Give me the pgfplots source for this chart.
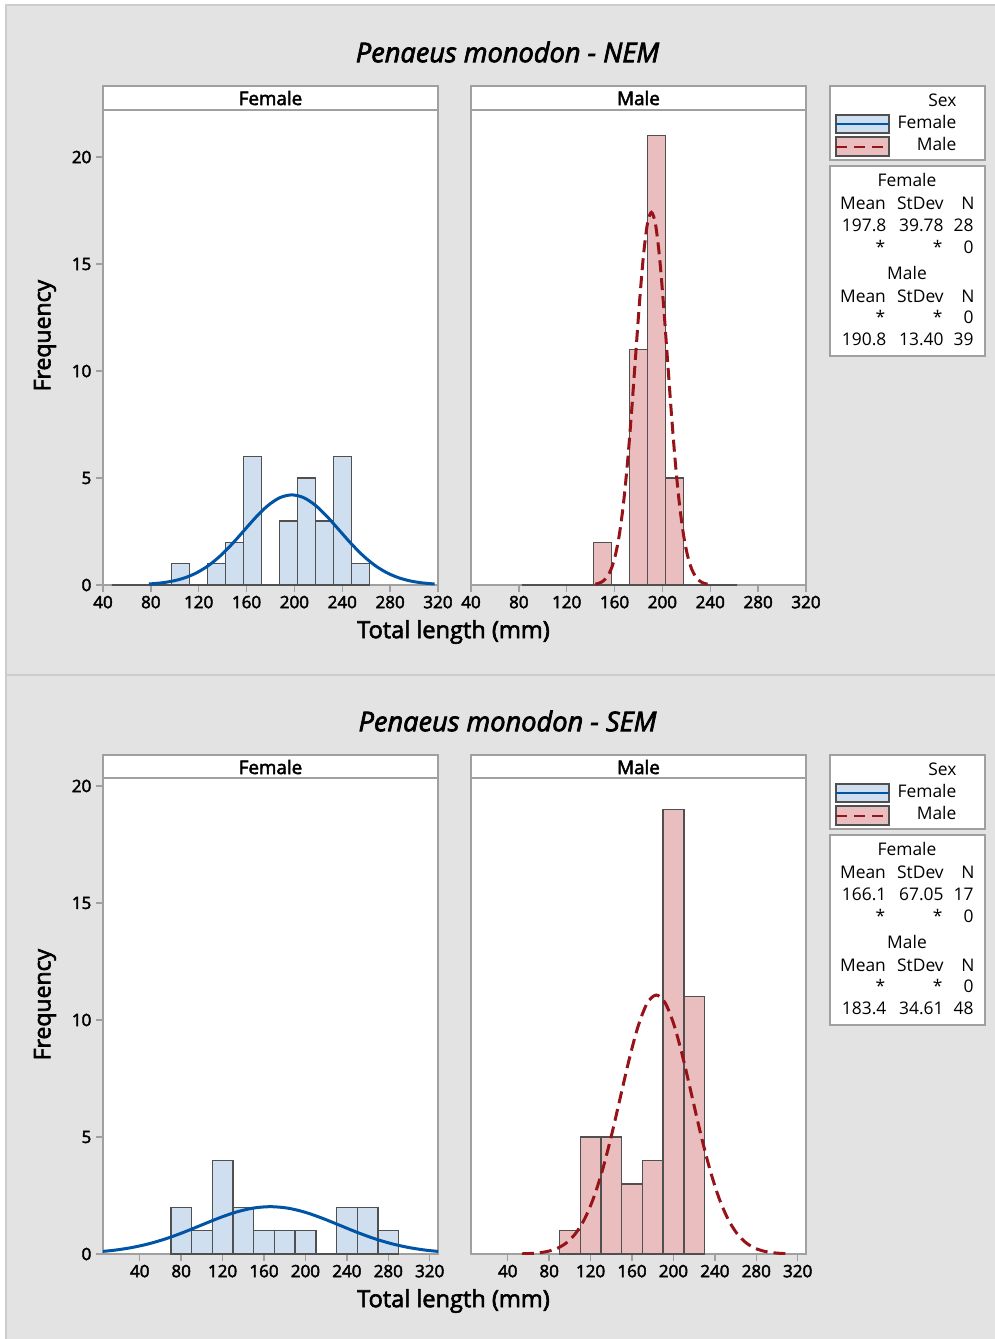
\documentclass[border=0pt]{standalone}
\usepackage{pgfplots}
\pgfplotsset{compat=1.18}
\usepackage{fontspec}
\setmainfont{Open Sans}
\newfontfamily\semib{Open Sans}[FakeBold=2.6]
\definecolor{bgray}{RGB}{227,227,227}
\definecolor{pborder}{RGB}{204,204,204}
\definecolor{axgray}{RGB}{160,160,160}
\definecolor{edgegray}{RGB}{80,80,80}
\definecolor{ffill}{RGB}{208,223,239}
\definecolor{mfill}{RGB}{234,190,190}
\definecolor{fline}{RGB}{0,84,166}
\definecolor{mline}{RGB}{150,20,25}
\newcommand\tfont{\semib\fontsize{8.5}{10}\selectfont}
\newcommand\lfont{\fontsize{8.7}{10}\selectfont}
\pgfplotsset{
  panel/.style={scale only axis, width=167.5pt, anchor=south west,
    axis background/.style={fill=white},
    axis line style={draw=axgray, line width=0.7pt},
    tick style={draw=axgray, line width=0.7pt},
    tick align=outside, major tick length=3.5pt, tick pos=left,
    ticklabel style={font=\tfont, text=black},
    xticklabel style={yshift=1.6pt},
    yticklabel style={xshift=1.2pt},
    /pgf/number format/assume math mode=true},
  bars/.style={ybar interval, draw=edgegray, line width=0.7pt},
  fcurve/.style={fline, line width=1.5pt, smooth},
  mcurve/.style={mline, line width=1.5pt, smooth, dash pattern=on 6pt off 3pt},
}
\newcommand\decor[6]{%
  % strips
  \draw[axgray, line width=0.6pt, fill=white] (51.5pt,-43pt) rectangle (219pt,-55pt);
  \node[font=\semib\fontsize{9.4}{11}\selectfont] at (135.25pt,-49pt) {Female};
  \draw[axgray, line width=0.6pt, fill=white] (235.5pt,-43pt) rectangle (403pt,-55pt);
  \node[font=\semib\fontsize{9.4}{11}\selectfont] at (319.25pt,-49pt) {Male};
  % legend
  \draw[axgray, line width=0.6pt, fill=white] (415pt,-43pt) rectangle (492.5pt,-80pt);
  \begin{scope}[every node/.style={font=\lfont, inner sep=0pt}]
  \node[anchor=east] at (478.4pt,-50.3pt) {Sex};
  \draw[edgegray, line width=1.1pt, fill=ffill] (418pt,-57.5pt) rectangle (444.6pt,-66.6pt);
  \draw[fline, line width=1pt] (418pt,-62pt) -- (444.6pt,-62pt);
  \node[anchor=east] at (478.4pt,-61.1pt) {Female};
  \draw[edgegray, line width=1.1pt, fill=mfill] (418pt,-68.6pt) rectangle (444.6pt,-78pt);
  \draw[mline, line width=1pt, dash pattern=on 5.5pt off 3.5pt] (418pt,-73.3pt) -- (444.6pt,-73.3pt);
  \node[anchor=east] at (478.4pt,-72pt) {Male};
  \end{scope}
  \draw[axgray, line width=0.6pt, fill=white] (415pt,-83pt) rectangle (492.5pt,-178pt);
  \begin{scope}[every node/.style={font=\lfont, inner sep=0pt}]
  \node at (453.5pt,-90pt) {Female};
  \node at (431.5pt,-101.6pt) {Mean};
  \node at (460.2pt,-101.6pt) {StDev};
  \node at (484pt,-101.6pt) {N};
  \node[anchor=east] at (443.4pt,-112.8pt) {#1};
  \node[anchor=east] at (472pt,-112.8pt) {#2};
  \node[anchor=east] at (487pt,-112.8pt) {#3};
  \node[anchor=east] at (442.8pt,-123.4pt) {*};
  \node[anchor=east] at (471.4pt,-123.4pt) {*};
  \node[anchor=east] at (487pt,-123.4pt) {0};
  \node at (453.5pt,-136.6pt) {Male};
  \node at (431.5pt,-148pt) {Mean};
  \node at (460.2pt,-148pt) {StDev};
  \node at (484pt,-148pt) {N};
  \node[anchor=east] at (442.8pt,-158.4pt) {*};
  \node[anchor=east] at (471.4pt,-158.4pt) {*};
  \node[anchor=east] at (487pt,-158.4pt) {0};
  \node[anchor=east] at (443.4pt,-169.7pt) {#4};
  \node[anchor=east] at (472pt,-169.7pt) {#5};
  \node[anchor=east] at (487pt,-169.7pt) {#6};
  \end{scope}
  % labels
  \node[rotate=90, font=\semib\fontsize{11.5}{13}\selectfont] at (22.5pt,-167.8pt) {Frequency};
  \node[font=\semib\fontsize{11.8}{13}\selectfont] at (226.75pt,-316pt) {Total length (mm)};
}
\begin{document}
\begin{tikzpicture}
\useasboundingbox (0,0) rectangle (497.5pt,-669.5pt);
\fill[white] (0,0) rectangle (497.5pt,-669.5pt);
\filldraw[fill=bgray, draw=pborder, line width=0.8pt] (3pt,-2.5pt) rectangle (502pt,-674pt);
\draw[pborder, line width=0.7pt] (3pt,-337.5pt) -- (502pt,-337.5pt);

% ---------- top panel ----------
\node[font=\semib\itshape\fontsize{13.6}{16}\selectfont] at (253.75pt,-26pt) {Penaeus monodon - NEM};
\decor{197.8}{39.78}{28}{190.8}{13.40}{39}

\begin{axis}[panel, height=237.5pt, at={(51.5pt,-292.5pt)},
  xmin=40, xmax=320, ymin=0, ymax=22.2,
  xtick={40,80,...,320}, ytick={0,5,...,20}]
\addplot[bars, fill=ffill] coordinates {(47.5,0)(97.5,1)(112.5,0)(127.5,1)(142.5,2)(157.5,6)(172.5,0)(187.5,3)(202.5,5)(217.5,3)(232.5,6)(247.5,1)(262.5,0)};
\addplot[fcurve] coordinates {(78.46,0.0468)(88.41,0.0960)(98.35,0.1851)(108.30,0.3351)(118.24,0.5701)(128.19,0.9109)(138.13,1.3674)(148.08,1.9284)(158.02,2.5547)(167.97,3.1794)(177.91,3.7171)(187.86,4.0824)(197.8,4.212)(207.75,4.0824)(217.69,3.7171)(227.64,3.1794)(237.58,2.5547)(247.53,1.9284)(257.47,1.3674)(267.42,0.9109)(277.36,0.5701)(287.31,0.3351)(297.25,0.1851)(307.20,0.0960)(317.14,0.0468)};
\end{axis}

\begin{axis}[panel, height=237.5pt, at={(235.5pt,-292.5pt)},
  xmin=40, xmax=320, ymin=0, ymax=22.2,
  xtick={40,80,...,320}, ytick=\empty]
\addplot[bars, fill=mfill] coordinates {(82.5,0)(142.5,2)(157.5,0)(172.5,11)(187.5,21)(202.5,5)(217.5,0)(262.5,0)};
\addplot[mcurve] coordinates {(143.9,0.0381)(147.25,0.0886)(150.6,0.1935)(153.95,0.397)(157.3,0.765)(160.65,1.386)(164.0,2.357)(167.35,3.767)(170.7,5.654)(174.05,7.974)(177.4,10.563)(180.75,13.146)(184.1,15.370)(187.45,16.880)(190.8,17.416)(194.15,16.880)(197.5,15.370)(200.85,13.146)(204.2,10.563)(207.55,7.974)(210.9,5.654)(214.25,3.767)(217.6,2.357)(220.95,1.386)(224.3,0.765)(227.65,0.397)(231.0,0.1935)(234.35,0.0886)(237.7,0.0381)};
\end{axis}

% ---------- bottom panel ----------
\begin{scope}[yshift=-334.5pt]
\node[font=\semib\itshape\fontsize{13.6}{16}\selectfont] at (253.75pt,-26pt) {Penaeus monodon - SEM};
\decor{166.1}{67.05}{17}{183.4}{34.61}{48}
\end{scope}

\begin{axis}[panel, height=238pt, at={(51.5pt,-627pt)},
  xmin=4.5, xmax=328, ymin=0, ymax=20.34,
  xtick={40,80,...,320}, ytick={0,5,...,20}]
\addplot[bars, fill=ffill] coordinates {(70,2)(90,1)(110,4)(130,2)(150,1)(170,1)(190,1)(210,0)(230,2)(250,2)(270,1)(290,0)};
\addplot[fcurve] coordinates {(-1.53,0.0889)(15.24,0.1610)(32.0,0.2738)(48.76,0.4375)(65.53,0.6568)(82.29,0.9262)(99.05,1.2270)(115.81,1.5270)(132.58,1.7853)(149.34,1.9607)(166.1,2.0230)(182.86,1.9607)(199.63,1.7853)(216.39,1.5270)(233.15,1.2270)(249.91,0.9262)(266.68,0.6568)(283.44,0.4375)(300.2,0.2738)(316.96,0.1610)(333.73,0.0889)};
\end{axis}

\begin{axis}[panel, height=238pt, at={(235.5pt,-627pt)},
  xmin=4.5, xmax=328, ymin=0, ymax=20.34,
  xtick={40,80,...,320}, ytick=\empty]
\addplot[bars, fill=mfill] coordinates {(90,1)(110,5)(130,5)(150,3)(170,4)(190,19)(210,11)(230,0)};
\addplot[mcurve] coordinates {(53.61,0.0098)(62.27,0.0242)(70.92,0.0563)(79.57,0.1229)(88.22,0.252)(96.88,0.486)(105.53,0.880)(114.18,1.498)(122.83,2.393)(131.49,3.593)(140.14,5.066)(148.79,6.712)(157.44,8.353)(166.10,9.766)(174.75,10.726)(183.4,11.066)(192.05,10.726)(200.71,9.766)(209.36,8.353)(218.01,6.712)(226.66,5.066)(235.32,3.593)(243.97,2.393)(252.62,1.498)(261.27,0.880)(269.93,0.486)(278.58,0.252)(287.23,0.1229)(295.88,0.0563)(304.54,0.0242)(313.19,0.0098)};
\end{axis}
\end{tikzpicture}
\end{document}
